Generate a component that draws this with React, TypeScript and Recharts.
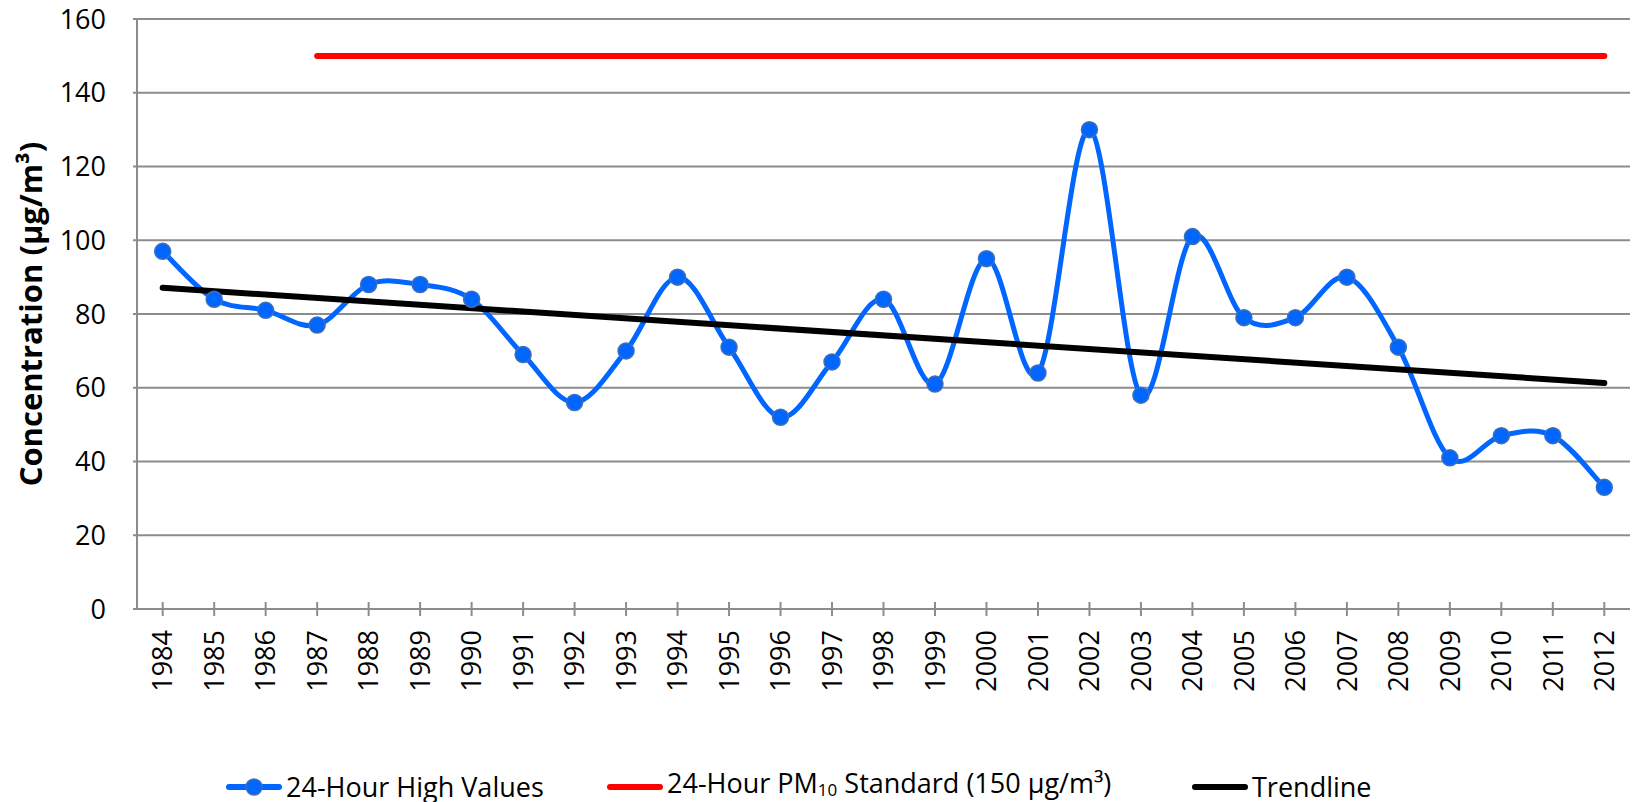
import React from 'react';
import {
  LineChart,
  Line,
  XAxis,
  YAxis,
  CartesianGrid,
  Legend,
} from 'recharts';

const years = [
  '1984', '1985', '1986', '1987', '1988', '1989', '1990', '1991', '1992', '1993',
  '1994', '1995', '1996', '1997', '1998', '1999', '2000', '2001', '2002', '2003',
  '2004', '2005', '2006', '2007', '2008', '2009', '2010', '2011', '2012',
];

const highValues = [
  97, 84, 81, 77, 88, 88, 84, 69, 56, 70,
  90, 71, 52, 67, 84, 61, 95, 64, 130, 58,
  101, 79, 79, 90, 71, 41, 47, 47, 33,
];

// the 150 standard line only starts in 1987
const standardValues = [
  null, null, null, 150, 150, 150, 150, 150, 150, 150,
  150, 150, 150, 150, 150, 150, 150, 150, 150, 150,
  150, 150, 150, 150, 150, 150, 150, 150, 150,
];

// straight trendline, only its two ends
const trendValues = [
  87.1, null, null, null, null, null, null, null, null, null,
  null, null, null, null, null, null, null, null, null, null,
  null, null, null, null, null, null, null, null, 61.3,
];

const yTicks = [0, 20, 40, 60, 80, 100, 120, 140, 160];

const data = years.map((year, i) => ({
  year,
  high: highValues[i],
  standard: standardValues[i],
  trend: trendValues[i],
}));

const FONT = '"Open Sans", sans-serif';
const GRID = '#8c8c8c';
const BLUE = '#0066ff';

// Excel-style smoothed line (Catmull-Rom as cubic beziers)
const excelSmooth = (context: any) => {
  let pts: number[][] = [];
  return {
    areaStart() {},
    areaEnd() {},
    lineStart() {
      pts = [];
    },
    lineEnd() {
      if (!pts.length) return;
      context.moveTo(pts[0][0], pts[0][1]);
      for (let i = 0; i < pts.length - 1; i++) {
        const p0 = pts[i - 1] || pts[i];
        const p1 = pts[i];
        const p2 = pts[i + 1];
        const p3 = pts[i + 2] || p2;
        context.bezierCurveTo(
          p1[0] + (p2[0] - p0[0]) / 6,
          p1[1] + (p2[1] - p0[1]) / 6,
          p2[0] - (p3[0] - p1[0]) / 6,
          p2[1] - (p3[1] - p1[1]) / 6,
          p2[0],
          p2[1],
        );
      }
    },
    point(x: number, y: number) {
      pts.push([x, y]);
    },
  };
};

const YearTick = (props: any) => {
  const { x, y, payload } = props;
  return (
    <g>
      <line x1={x} x2={x} y1={y - 7} y2={y + 7} stroke={GRID} strokeWidth={2} />
      <text
        x={x}
        y={y + 21}
        dy="0.36em"
        textAnchor="end"
        transform={`rotate(-90 ${x} ${y + 21})`}
        fontFamily={FONT}
        fontSize={27}
        fill="#000"
      >
        {payload.value}
      </text>
    </g>
  );
};

const YTitle = (props: any) => {
  const { viewBox } = props;
  const cy = viewBox.y + viewBox.height / 2;
  return (
    <text
      transform={`translate(42 ${cy}) rotate(-90)`}
      textAnchor="middle"
      fontFamily={FONT}
      fontSize={31}
      fontWeight="bold"
      fill="#000"
    >
      Concentration (µg/m³)
    </text>
  );
};

const LineIcon = ({ color, dot }: { color: string; dot?: boolean }) => (
  <svg width={56} height={30} style={{ display: 'block' }}>
    <line x1={3} x2={53} y1={15} y2={15} stroke={color} strokeWidth={6} strokeLinecap="round" />
    {dot && <circle cx={28} cy={15} r={8} fill={BLUE} stroke="#3f6fb5" strokeWidth={1.5} />}
  </svg>
);

const item = (left: number): React.CSSProperties => ({
  position: 'absolute',
  left,
  top: 0,
  height: 30,
  display: 'flex',
  alignItems: 'center',
  whiteSpace: 'nowrap',
});

const renderLegend = () => (
  <div
    style={{
      position: 'relative',
      height: 30,
      fontFamily: FONT,
      fontSize: 27,
      color: '#000',
      lineHeight: '30px',
    }}
  >
    <div style={item(226)}>
      <LineIcon color={BLUE} dot />
      <span style={{ marginLeft: 4 }}>24-Hour High Values</span>
    </div>
    <div style={item(607)}>
      <LineIcon color="#ff0000" />
      <span style={{ marginLeft: 4 }}>
        24-Hour PM<sub style={{ fontSize: 17, verticalAlign: '-0.2em' }}>10</sub> Standard (150 µg/m³)
      </span>
    </div>
    <div style={item(1192)}>
      <LineIcon color="#000" />
      <span style={{ marginLeft: 4 }}>Trendline</span>
    </div>
  </div>
);

export default function App() {
  return (
    <div style={{ position: 'absolute', left: 0, top: 0, background: '#fff' }}>
      <LineChart
        width={1633}
        height={802}
        data={data}
        margin={{ top: 19, right: 3, bottom: 0, left: 0 }}
      >
        <CartesianGrid vertical={false} stroke={GRID} strokeWidth={2} />
        <XAxis
          dataKey="year"
          padding={{ left: 25.7, right: 25.7 }}
          height={163}
          axisLine={{ stroke: GRID, strokeWidth: 2 }}
          tickLine={false}
          tickSize={0}
          tickMargin={0}
          interval={0}
          tick={<YearTick />}
        />
        <XAxis
          xAxisId="top"
          dataKey="year"
          orientation="top"
          height={0}
          axisLine={{ stroke: '#000', strokeWidth: 2 }}
          tick={false}
          tickLine={false}
        />
        <YAxis
          width={137}
          domain={[0, 160]}
          ticks={yTicks}
          interval={0}
          axisLine={{ stroke: GRID, strokeWidth: 2 }}
          tickLine={{ stroke: GRID, strokeWidth: 2 }}
          tickSize={4}
          tickMargin={27}
          tick={{ fontFamily: FONT, fontSize: 27, fill: '#000' }}
          label={<YTitle />}
        />
        <YAxis
          yAxisId="right"
          orientation="right"
          width={0}
          domain={[0, 160]}
          axisLine={{ stroke: '#000', strokeWidth: 2 }}
          tick={false}
          tickLine={false}
        />
        <Legend verticalAlign="bottom" height={30} content={renderLegend} />
        <Line
          dataKey="high"
          name="24-Hour High Values"
          type={excelSmooth as any}
          stroke={BLUE}
          strokeWidth={5}
          dot={{ r: 8, fill: BLUE, stroke: '#3f6fb5', strokeWidth: 1.5 }}
          activeDot={false}
          isAnimationActive={false}
        />
        <Line
          dataKey="standard"
          name="24-Hour PM10 Standard (150 µg/m³)"
          type="linear"
          stroke="#ff0000"
          strokeWidth={6}
          strokeLinecap="round"
          dot={false}
          activeDot={false}
          isAnimationActive={false}
        />
        <Line
          dataKey="trend"
          name="Trendline"
          type="linear"
          stroke="#000"
          strokeWidth={6}
          strokeLinecap="round"
          connectNulls
          dot={false}
          activeDot={false}
          isAnimationActive={false}
        />
      </LineChart>
    </div>
  );
}
